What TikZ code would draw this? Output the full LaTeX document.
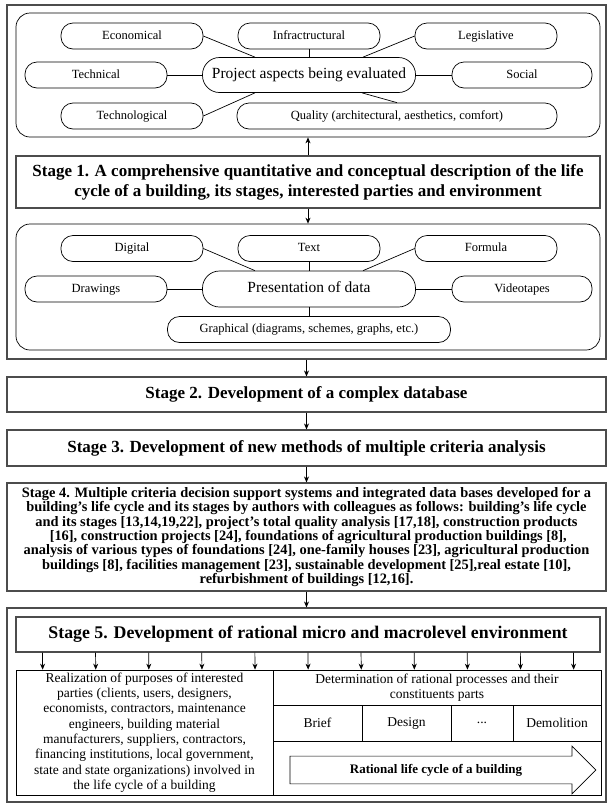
\documentclass[tikz,border=0pt]{standalone}
\usepackage{fontspec}
\setmainfont{Liberation Serif}
\usetikzlibrary{arrows.meta,shapes.arrows}

\begin{document}
\begin{tikzpicture}[
    x=1pt, y=-1pt,
    >={Stealth[length=6pt,width=5pt]},
    line width=0.7pt,
    frame/.style={draw=black!70, line width=1.1pt, minimum width=599pt, inner sep=0pt},
    group/.style={draw, rounded corners=14pt, minimum width=584pt, inner sep=0pt},
    pill/.style={draw, rounded corners=12pt, minimum width=142pt, minimum height=26pt,
                 inner sep=0pt, text height=9pt, text depth=3pt,
                 font=\fontsize{12.5}{14}\selectfont},
    hub/.style={pill, rounded corners=17pt, minimum width=213pt, minimum height=35pt,
                text height=11pt, text depth=3.5pt, font=\fontsize{15.5}{17}\selectfont},
    stagebox/.style={draw=black!70, line width=1.1pt, minimum width=584pt, inner sep=0pt,
                     align=center, font=\fontsize{17}{20}\selectfont\bfseries},
    cell/.style={draw, inner sep=0pt, align=center, font=\fontsize{13.5}{15.3}\selectfont},
]
  \useasboundingbox (0,0) rectangle (607,804);

  % 外框
  \node[frame, minimum height=354pt] (outer1) at (306.5,182) {};
  \node[frame, minimum height=194pt] (outer5) at (306.5,705) {};

  % 评价的方面
  \node[group, minimum height=124pt] (aspbox) at (308,75) {};
  \node[hub] (aspects) at (309,75) {Project aspects being evaluated};
  \node[pill] (econ) at (132,36) {Economical};
  \node[pill] (infra) at (309,36) {Infractructural};
  \node[pill] (legis) at (486,36) {Legislative};
  \node[pill] (tech) at (96,75) {Technical};
  \node[pill, minimum width=140pt] (social) at (522,75) {Social};
  \node[pill] (techno) at (132,116) {Technological};
  \node[pill, minimum width=320pt] (quality) at (397,116) {Quality (architectural, aesthetics, comfort)};

  \draw (econ.east) -- ([xshift=-54pt]aspects.north);
  \draw (infra.south) -- (aspects.north);
  \draw (legis.west) -- ([xshift=54pt]aspects.north);
  \draw (tech) -- (aspects);
  \draw (aspects) -- (social);
  \draw (techno.east) -- ([xshift=-54pt]aspects.south);
  \draw ([xshift=53pt]aspects.south) -- (quality.north);

  \node[stagebox, minimum height=52pt] (st1) at (308,182)
    {Stage 1. A comprehensive quantitative and conceptual description of the life\\
     cycle of a building, its stages, interested parties and environment};

  % 数据的表示
  \node[group, minimum height=126pt] (presbox) at (308,287) {};
  \node[hub, minimum height=36pt] (present) at (309,289) {Presentation of data};
  \node[pill] (digital) at (132,248.5) {Digital};
  \node[pill] (text) at (309,248.5) {Text};
  \node[pill] (formula) at (486,248.5) {Formula};
  \node[pill] (drawings) at (96,289) {Drawings};
  \node[pill, minimum width=140pt] (video) at (522,289) {Videotapes};
  \node[pill, minimum width=283pt] (graph) at (309,329.5) {Graphical (diagrams, schemes, graphs, etc.)};

  \draw (digital.east) -- ([xshift=-54pt]present.north);
  \draw (text.south) -- (present.north);
  \draw (formula.west) -- ([xshift=54pt]present.north);
  \draw (drawings) -- (present);
  \draw (present) -- (video);
  \draw (present.south) -- (graph.north);

  \draw[->] (st1.north) -- (aspbox.south);
  \draw[->] (st1.south) -- (presbox.north);

  % 阶段 2--4
  \node[stagebox, minimum width=599pt, minimum height=35pt] (st2) at (306.5,394.5)
    {Stage 2. Development of a complex database};
  \node[stagebox, minimum width=599pt, minimum height=36pt] (st3) at (306.5,448)
    {Stage 3. Development of new methods of multiple criteria analysis};
  \node[stagebox, minimum width=599pt, minimum height=108pt,
        font=\fontsize{14.4}{14.4}\selectfont\bfseries] (st4) at (306.5,537)
    {Stage 4. Multiple criteria decision support systems and integrated data bases developed for a\\
     building's life cycle and its stages by authors with colleagues as follows: building's life cycle\\
     and its stages [13,14,19,22], project's total quality analysis [17,18], construction products\\{}
     [16], construction projects [24], foundations of agricultural production buildings [8],\\
     analysis of various types of foundations [24], one-family houses [23], agricultural production\\
     buildings [8], facilities management [23], sustainable development [25],real estate [10],\\
     refurbishment of buildings [12,16].};

  \draw[->] (outer1.south) -- (st2.north);
  \draw[->] (st2.south) -- (st3.north);
  \draw[->] (st3.south) -- (st4.north);
  \draw[->] (st4.south) -- (outer5.north);

  % 阶段 5
  \node[stagebox, minimum height=35pt, font=\fontsize{17.8}{20}\selectfont\bfseries] (st5) at (308,634.5)
    {Stage 5. Development of rational micro and macrolevel environment};

  \node[cell, minimum width=257pt, minimum height=125pt] (purp) at (144.5,732.5)
    {Realization of purposes of interested\\
     parties (clients, users, designers,\\
     economists, contractors, maintenance\\
     engineers, building material\\
     manufacturers, suppliers, contractors,\\
     financing institutions, local government,\\
     state and state organizations) involved in\\
     the life cycle of a building};
  \node[cell, minimum width=328pt, minimum height=35pt] (determ) at (437,687.5)
    {Determination of rational processes and their\\constituents parts};
  \begin{scope}[every node/.append style={font=\fontsize{11.5}{13}\selectfont}]
    \node[cell, minimum width=89pt, minimum height=36pt] (brief) at (317.5,723) {Brief};
    \node[cell, minimum width=89pt, minimum height=36pt] (design) at (406.5,723) {Design};
    \node[cell, minimum width=62pt, minimum height=36pt] (dots) at (482,723) {...};
    \node[cell, minimum width=88pt, minimum height=36pt] (demol) at (557,723) {Demolition};
  \end{scope}
  \node[cell, minimum width=328pt, minimum height=54pt] (lcbox) at (437,768) {};
  \node[draw, single arrow, single arrow head extend=10pt, minimum height=306pt,
        inner xsep=2pt, inner ysep=7.5pt, font=\fontsize{13}{15}\selectfont\bfseries]
    (lcarrow) at (436,770) {Rational life cycle of a building};

  \foreach \i in {0,...,10}
    \draw[->] ([xshift=27pt+\i*53.1pt]st5.south west) -- ([xshift=27pt+\i*53.1pt]purp.north west);

\end{tikzpicture}
\end{document}
